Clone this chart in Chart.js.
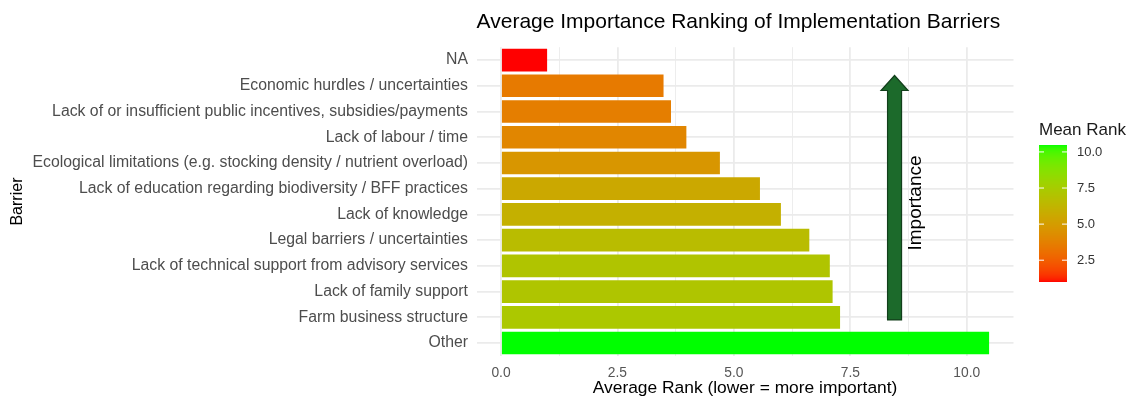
<!DOCTYPE html>
<html>
<head>
<meta charset="utf-8">
<script src="https://cdn.jsdelivr.net/npm/chart.js@4"></script>
<style>
  html, body { margin: 0; padding: 0; background: #ffffff; }
  #wrap { width: 1128px; height: 400px; }
</style>
</head>
<body>
<div id="wrap"><canvas id="barchart" width="1128" height="400"></canvas></div>
<script>
// data
const barriers = [
  "NA",
  "Economic hurdles / uncertainties",
  "Lack of or insufficient public incentives, subsidies/payments",
  "Lack of labour / time",
  "Ecological limitations (e.g. stocking density / nutrient overload)",
  "Lack of education regarding biodiversity / BFF practices",
  "Lack of knowledge",
  "Legal barriers / uncertainties",
  "Lack of technical support from advisory services",
  "Lack of family support",
  "Farm business structure",
  "Other"
];
const meanRank = [0.99, 3.49, 3.65, 3.98, 4.70, 5.56, 6.01, 6.62, 7.06, 7.12, 7.28, 10.48];
const xTicks = [0, 2.5, 5, 7.5, 10];
const legendTicks = [2.5, 5, 7.5, 10];

const FONT = "'Liberation Sans', Arial, Helvetica, sans-serif";

// red -> green gradient interpolated in Lab, like ggplot's scale_fill_gradient
function toLab(r, g, b) {
  let c = [r, g, b].map(v => {
    v /= 255;
    return v > 0.04045 ? Math.pow((v + 0.055) / 1.055, 2.4) : v / 12.92;
  });
  let x = (c[0] * 0.4124 + c[1] * 0.3576 + c[2] * 0.1805) / 0.95047;
  let y = (c[0] * 0.2126 + c[1] * 0.7152 + c[2] * 0.0722);
  let z = (c[0] * 0.0193 + c[1] * 0.1192 + c[2] * 0.9505) / 1.08883;
  const f = t => t > 0.008856 ? Math.cbrt(t) : 7.787 * t + 16 / 116;
  return [116 * f(y) - 16, 500 * (f(x) - f(y)), 200 * (f(y) - f(z))];
}
function fromLab(L, a, bb) {
  let fy = (L + 16) / 116, fx = fy + a / 500, fz = fy - bb / 200;
  const fi = t => t * t * t > 0.008856 ? t * t * t : (t - 16 / 116) / 7.787;
  let x = fi(fx) * 0.95047, y = fi(fy), z = fi(fz) * 1.08883;
  let r = x * 3.2406 + y * -1.5372 + z * -0.4986;
  let g = x * -0.9689 + y * 1.8758 + z * 0.0415;
  let b = x * 0.0557 + y * -0.2040 + z * 1.0570;
  return [r, g, b].map(v => {
    v = v > 0.0031308 ? 1.055 * Math.pow(v, 1 / 2.4) - 0.055 : 12.92 * v;
    return Math.round(Math.min(1, Math.max(0, v)) * 255);
  });
}
const labLow = toLab(255, 0, 0);
const labHigh = toLab(0, 255, 0);
const rankMin = Math.min(...meanRank);
const rankMax = Math.max(...meanRank);
function rankColor(v) {
  const t = (v - rankMin) / (rankMax - rankMin);
  const c = fromLab(
    labLow[0] + (labHigh[0] - labLow[0]) * t,
    labLow[1] + (labHigh[1] - labLow[1]) * t,
    labLow[2] + (labHigh[2] - labLow[2]) * t
  );
  return "rgb(" + c.join(",") + ")";
}

// ggplot-like 5% expansion of the continuous axis
const xPad = rankMax * 0.05;
const xMin = -xPad, xMax = rankMax + xPad;
const isMajor = v => xTicks.some(t => Math.abs(t - v) < 1e-6);

// Importance arrow + text, and the colour bar legend
const extras = {
  id: "extras",
  afterDatasetsDraw(chart) {
    const ctx = chart.ctx;
    const xs = chart.scales.x, ys = chart.scales.y;
    const ax = xs.getPixelForValue(8.45);
    const yBot = ys.getPixelForValue(10.1);
    const yTip = ys.getPixelForValue(0.6);
    const shaft = 7, head = 13.5, headLen = 15;
    ctx.save();
    ctx.beginPath();
    ctx.moveTo(ax - shaft, yBot);
    ctx.lineTo(ax - shaft, yTip + headLen);
    ctx.lineTo(ax - head, yTip + headLen);
    ctx.lineTo(ax, yTip);
    ctx.lineTo(ax + head, yTip + headLen);
    ctx.lineTo(ax + shaft, yTip + headLen);
    ctx.lineTo(ax + shaft, yBot);
    ctx.closePath();
    ctx.fillStyle = "#1c6a2b";
    ctx.fill();
    ctx.lineWidth = 1.2;
    ctx.strokeStyle = "#123f1b";
    ctx.stroke();

    ctx.translate(916, 203);
    ctx.rotate(-Math.PI / 2);
    ctx.fillStyle = "#000000";
    ctx.font = "19px " + FONT;
    ctx.textAlign = "center";
    ctx.textBaseline = "middle";
    ctx.fillText("Importance", 0, 0);
    ctx.restore();

    // colour bar
    const bx = 1039, bw = 28, top = 145, bottom = 282;
    ctx.save();
    for (let py = top; py < bottom; py++) {
      const v = rankMin + (bottom - py - 0.5) / (bottom - top) * (rankMax - rankMin);
      ctx.fillStyle = rankColor(v);
      ctx.fillRect(bx, py, bw, 1);
    }
    ctx.strokeStyle = "#ffffff";
    ctx.lineWidth = 1;
    ctx.fillStyle = "#333333";
    ctx.font = "13px " + FONT;
    ctx.textAlign = "left";
    ctx.textBaseline = "middle";
    legendTicks.forEach(v => {
      const py = bottom - (v - rankMin) / (rankMax - rankMin) * (bottom - top);
      ctx.beginPath();
      ctx.moveTo(bx, py); ctx.lineTo(bx + 5, py);
      ctx.moveTo(bx + bw - 5, py); ctx.lineTo(bx + bw, py);
      ctx.stroke();
      ctx.fillText(v.toFixed(1), 1077, py);
    });
    ctx.fillStyle = "#1a1a1a";
    ctx.font = "17px " + FONT;
    ctx.fillText("Mean Rank", 1039, 130);
    ctx.restore();
  }
};

new Chart(document.getElementById("barchart"), {
  type: "bar",
  data: {
    labels: barriers,
    datasets: [{
      data: meanRank,
      backgroundColor: meanRank.map(rankColor),
      borderWidth: 0,
      barPercentage: 0.88,
      categoryPercentage: 1.0
    }]
  },
  options: {
    indexAxis: "y",
    responsive: false,
    animation: false,
    layout: { padding: { left: 0, right: 114.5, top: 0, bottom: 0 } },
    plugins: {
      legend: { display: false },
      tooltip: { enabled: false },
      title: {
        display: true,
        text: "Average Importance Ranking of Implementation Barriers",
        align: "start",
        fullSize: false,
        color: "#000000",
        font: { family: FONT, size: 21, weight: "normal", lineHeight: 1.2 },
        padding: { top: 10, bottom: 12 }
      }
    },
    scales: {
      x: {
        type: "linear",
        min: xMin,
        max: xMax,
        afterBuildTicks(scale) {
          const all = [];
          for (let i = 0; i < xTicks.length; i++) {
            all.push({ value: xTicks[i] });
            if (i < xTicks.length - 1) all.push({ value: (xTicks[i] + xTicks[i + 1]) / 2 });
          }
          scale.ticks = all;
        },
        afterFit(scale) { scale.height = 44.1; },
        border: { display: false },
        grid: {
          drawTicks: false,
          color: "#ebebeb",
          lineWidth: c => (c.tick && isMajor(c.tick.value)) ? 1.8 : 0.9
        },
        ticks: {
          autoSkip: false,
          maxRotation: 0,
          padding: 9,
          color: "#555555",
          font: { family: FONT, size: 13.8 },
          callback: v => isMajor(v) ? v.toFixed(1) : ""
        },
        title: {
          display: true,
          text: "Average Rank (lower = more important)",
          color: "#000000",
          font: { family: FONT, size: 17.4 },
          padding: { top: 0, bottom: 1 }
        }
      },
      y: {
        afterFit(scale) { scale.width = 476.6; },
        border: { display: false },
        grid: {
          offset: false,
          drawTicks: false,
          color: "#ebebeb",
          lineWidth: 1.8
        },
        ticks: {
          autoSkip: false,
          padding: 8.6,
          color: "#4d4d4d",
          font: { family: FONT, size: 15.8 }
        },
        title: {
          display: true,
          text: "Barrier",
          color: "#000000",
          font: { family: FONT, size: 16 },
          padding: { top: 8, bottom: 0 }
        }
      }
    }
  },
  plugins: [extras]
});
</script>
</body>
</html>
